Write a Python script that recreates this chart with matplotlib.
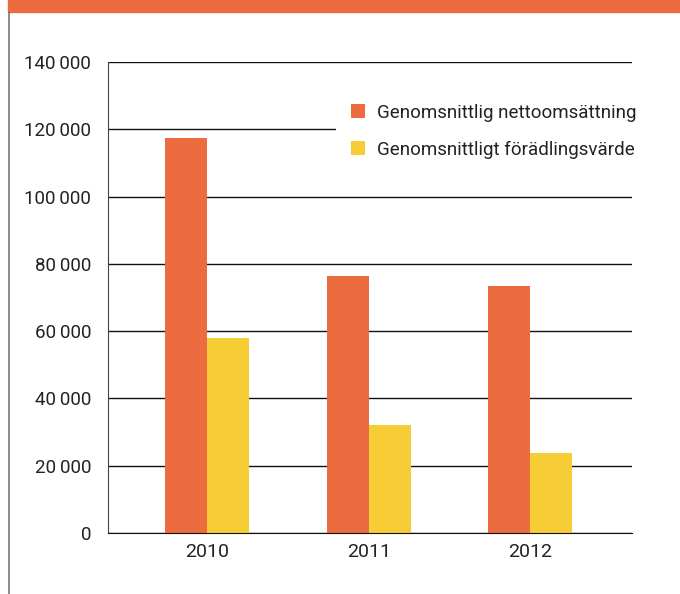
import matplotlib.pyplot as plt
import numpy as np

years = ["2010", "2011", "2012"]
netto = [117400, 76400, 73400]
forad = [58000, 32100, 23800]
yticks = [0, 20000, 40000, 60000, 80000, 100000, 120000, 140000]
ytick_labels = ["0", "20\u2009000", "40\u2009000", "60\u2009000", "80\u2009000",
                "100\u2009000", "120\u2009000", "140\u2009000"]

orange = "#EC6B3F"
yellow = "#F6CD35"

plt.rcParams["font.family"] = ["Roboto", "DejaVu Sans"]

fig = plt.figure(figsize=(6.8, 5.94), dpi=100)

# orange band along the top and grey rule on the left
fig.patches.append(plt.Rectangle((8 / 680, 1 - 12 / 594), 1, 12 / 594,
                                 transform=fig.transFigure, color=orange, zorder=0))
fig.lines.append(plt.Line2D([8.5 / 680, 8.5 / 680], [0, 1 - 12 / 594],
                            transform=fig.transFigure, color="#777777", lw=1.2))

ax = fig.add_axes([108 / 680, 1 - 533 / 594, (632 - 108) / 680, (533 - 62) / 594])

x = np.arange(len(years))
w = 0.26
ax.bar(x - w / 2, netto, w, color=orange, label="Genomsnittlig nettoomsättning", zorder=2)
ax.bar(x + w / 2, forad, w, color=yellow, label="Genomsnittligt förädlingsvärde", zorder=2)

ax.set_xlim(-0.613, 2.63)
ax.set_ylim(0, 140000)
ax.set_yticks(yticks)
ax.set_yticklabels(ytick_labels)
ax.set_xticks(x)
ax.set_xticklabels(years)
ax.yaxis.grid(True, color="#111111", lw=1.0)
ax.set_axisbelow(True)
ax.tick_params(length=0, labelsize=13.5, colors="#222222", pad=12)
ax.tick_params(axis="x", pad=7, labelsize=14)
for s in ["top", "right"]:
    ax.spines[s].set_visible(False)
ax.spines["left"].set_color("#444444")
ax.spines["bottom"].set_color("#111111")

leg = ax.legend(loc="upper right", bbox_to_anchor=(1.037, 0.943), fontsize=13.5,
                frameon=True, facecolor="white", edgecolor="none", framealpha=1,
                fancybox=False, handlelength=0.75, handleheight=0.75,
                handletextpad=0.65, labelspacing=1.0, borderpad=0.8,
                borderaxespad=0)
for t in leg.get_texts():
    t.set_color("#222222")
leg.set_zorder(5)

fig.savefig("out.png", dpi=100)
